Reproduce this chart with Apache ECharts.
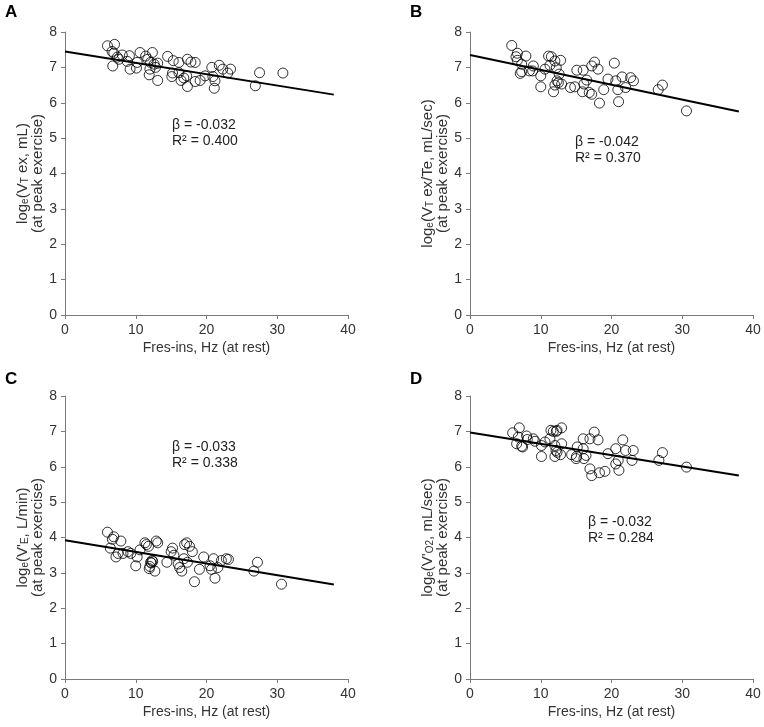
<!DOCTYPE html>
<html><head><meta charset="utf-8">
<script src="https://cdn.jsdelivr.net/npm/echarts@6/dist/echarts.min.js"></script>
<style>html,body{margin:0;padding:0;background:#fff}#c{width:764px;height:727px}</style>
</head><body><div id="c"></div>
<script>
// Panel A
const xA = [6.0,7.0,6.65,6.9,7.4,6.75,8.1,9.1,7.6,8.8,9.2,10.1,10.2,10.6,11.4,11.7,12.35,12.1,12.6,13.1,12.0,12.8,11.9,13.1,14.5,15.3,16.1,17.3,17.8,18.4,15.2,15.1,16.1,17.2,16.4,16.8,17.3,18.4,19.1,19.8,20.75,20.9,21.2,21.1,21.8,22.3,23.4,23.0,26.9,27.5,30.8];
const yA = [7.61,7.65,7.45,7.40,7.29,7.04,7.35,7.33,7.23,7.17,6.95,6.98,7.14,7.42,7.32,7.23,7.42,7.14,7.09,7.12,6.95,7.00,6.79,6.63,7.31,7.19,7.14,7.23,7.15,7.14,6.84,6.74,6.85,6.76,6.63,6.70,6.46,6.60,6.63,6.76,7.00,6.74,6.62,6.41,7.06,6.95,6.95,6.84,6.48,6.85,6.84];
// Panel B
const xB = [5.9,6.7,6.5,6.7,7.3,7.1,7.9,7.3,8.95,8.85,8.4,10.0,10.0,10.6,11.1,11.5,11.3,12.0,12.8,12.2,12.6,12.3,12.0,11.8,12.5,12.95,14.2,14.8,15.1,16.0,16.1,15.9,16.5,17.2,17.6,18.1,16.85,17.2,18.3,18.9,19.5,20.4,20.6,20.9,21.0,21.5,22.0,22.7,23.1,26.6,27.2,30.6];
const yB = [7.62,7.40,7.30,7.20,7.09,6.83,7.32,6.88,7.04,6.90,6.90,6.76,6.45,6.95,7.32,7.30,7.06,7.18,7.20,6.99,6.81,6.62,6.50,6.31,6.57,6.53,6.43,6.45,6.92,6.92,6.53,6.31,6.64,7.04,7.15,6.95,6.29,6.24,5.99,6.37,6.67,7.12,6.62,6.37,6.03,6.73,6.43,6.71,6.62,6.37,6.50,5.77];
// Panel C
const xC = [6.0,6.4,6.7,6.9,7.2,7.5,7.9,8.2,8.9,9.3,10.0,10.2,10.6,11.3,11.5,11.8,12.1,12.3,12.9,11.9,12.2,12.4,12.0,12.7,13.1,14.4,15.0,15.2,15.4,16.0,16.2,16.5,16.9,17.2,17.6,18.0,16.8,17.3,18.3,19.0,19.6,20.5,20.7,21.0,21.2,21.6,22.1,22.8,23.1,26.7,27.2,30.6];
const yC = [4.15,3.70,3.95,4.02,3.45,3.55,3.90,3.55,3.60,3.55,3.20,3.45,3.65,3.85,3.80,3.75,3.30,3.35,3.90,3.12,3.28,3.32,3.18,3.05,3.85,3.30,3.60,3.70,3.50,3.25,3.15,3.05,3.80,3.85,3.75,3.60,3.40,3.30,2.75,3.10,3.45,3.20,3.10,3.40,2.85,3.15,3.35,3.40,3.38,3.05,3.30,2.68];
// Panel D
const xD = [6.03,6.97,6.59,6.83,7.3,7.44,8.0,8.1,8.95,9.18,10.1,10.1,10.6,11.3,11.44,11.77,12.2,12.3,12.95,12.0,12.15,12.3,12.0,12.8,12.95,14.36,15.0,15.06,15.16,16.0,16.1,16.4,16.0,16.95,17.56,18.1,16.95,17.2,18.3,19.07,19.5,20.6,20.6,20.95,21.05,21.6,22.0,22.9,23.07,26.7,27.2,30.6];
const yD = [6.96,7.10,6.65,6.84,6.58,6.56,6.87,6.77,6.79,6.72,6.29,6.60,6.70,6.79,7.03,7.00,7.00,7.03,7.10,6.60,6.46,6.41,6.29,6.34,6.65,6.34,6.23,6.29,6.56,6.51,6.23,6.32,6.79,6.79,6.98,6.76,5.94,5.75,5.83,5.87,6.37,6.51,6.08,6.18,5.90,6.76,6.46,6.18,6.46,6.18,6.40,5.99];
// Regression lines: x endpoints and fitted y endpoints
const fitX = [0, 38];
const fitA = [7.45, 6.23];
const fitB = [7.35, 5.75];
const fitC = [3.92, 2.67];
const fitD = [6.97, 5.75];
// Annotations and labels
const panelLetters = ['A', 'B', 'C', 'D'];
const statsText = ['\u03b2 = -0.032\nR\u00b2 = 0.400', '\u03b2 = -0.042\nR\u00b2 = 0.370', '\u03b2 = -0.033\nR\u00b2 = 0.338', '\u03b2 = -0.032\nR\u00b2 = 0.284'];
const yNames = [
  '{n|log}{s|e}{n|(V}{s|T}{n| ex, mL)}\n{n|(at peak exercise)}',
  '{n|log}{s|e}{n|(V}{s|T}{n| ex/Te, mL/sec)}\n{n|(at peak exercise)}',
  "{n|log}{s|e}{n|(V'}{s|E}{n|, L/min)}\n{n|(at peak exercise)}",
  "{n|log}{s|e}{n|(V'}{s|O2}{n|, mL/sec)}\n{n|(at peak exercise)}"
];
const xName = 'Fres-ins, Hz (at rest)';
const xTicks = [0, 10, 20, 30, 40];
const yTicks = [0, 1, 2, 3, 4, 5, 6, 7, 8];

const FONT = 'Liberation Sans, Arial, sans-serif';
const grids = [
  {left: 65, top: 32, width: 283, height: 283},
  {left: 470, top: 32, width: 283, height: 283},
  {left: 65, top: 396, width: 283, height: 283},
  {left: 470, top: 396, width: 283, height: 283}
];
const axisCommon = {
  axisLine: {show: true, lineStyle: {color: '#7a7a7a', width: 1}},
  axisTick: {show: true, inside: false, length: 4, lineStyle: {color: '#7a7a7a'}},
  splitLine: {show: false},
  axisLabel: {color: '#333', fontSize: 14, fontFamily: FONT}
};
const xAxes = grids.map((g, i) => Object.assign({}, axisCommon, {
  type: 'value', gridIndex: i, min: xTicks[0], max: xTicks[xTicks.length - 1], interval: 10,
  name: xName, nameLocation: 'middle', nameGap: 26,
  nameTextStyle: {color: '#333', fontSize: 14, fontFamily: FONT}
}));
const yAxes = grids.map((g, i) => Object.assign({}, axisCommon, {
  type: 'value', gridIndex: i, min: yTicks[0], max: yTicks[yTicks.length - 1], interval: 1,
  name: yNames[i], nameLocation: 'middle', nameGap: 20, nameRotate: 90,
  nameTextStyle: {
    color: '#333', fontFamily: FONT,
    rich: {
      n: {fontSize: 15, lineHeight: 15, color: '#333', fontFamily: FONT},
      s: {fontSize: 10, lineHeight: 6, verticalAlign: 'bottom', color: '#333', fontFamily: FONT}
    }
  }
}));
const xs = [xA, xB, xC, xD], ys = [yA, yB, yC, yD], fits = [fitA, fitB, fitC, fitD];
const series = [];
for (let i = 0; i < 4; i++) {
  series.push({
    type: 'scatter', xAxisIndex: i, yAxisIndex: i, symbol: 'circle', symbolSize: 10,
    itemStyle: {color: 'rgba(0,0,0,0)', borderColor: '#000', borderWidth: 1},
    data: xs[i].map((x, k) => [x, ys[i][k]]), z: 2, silent: true
  });
  series.push({
    type: 'line', xAxisIndex: i, yAxisIndex: i, showSymbol: false, symbol: 'none',
    lineStyle: {color: '#000', width: 2},
    data: fitX.map((x, k) => [x, fits[i][k]]), z: 3, silent: true
  });
}
const letterPos = [[5, 4], [410, 4], [5, 371], [410, 371]];
const statPos = [[172, 117], [575, 134], [172, 439], [588, 514]];
const graphic = [];
for (let i = 0; i < 4; i++) {
  graphic.push({type: 'text', left: letterPos[i][0], top: letterPos[i][1],
    style: {text: panelLetters[i], font: 'bold 17px ' + FONT, fill: '#000'}});
  graphic.push({type: 'text', left: statPos[i][0], top: statPos[i][1],
    style: {text: statsText[i], font: '14px ' + FONT, fill: '#222', lineHeight: 16}});
}
const chart = echarts.init(document.getElementById('c'), null, {renderer: 'canvas'});
chart.setOption({
  animation: false, backgroundColor: '#fff',
  grid: grids, xAxis: xAxes, yAxis: yAxes, series: series, graphic: graphic
});
</script></body></html>
